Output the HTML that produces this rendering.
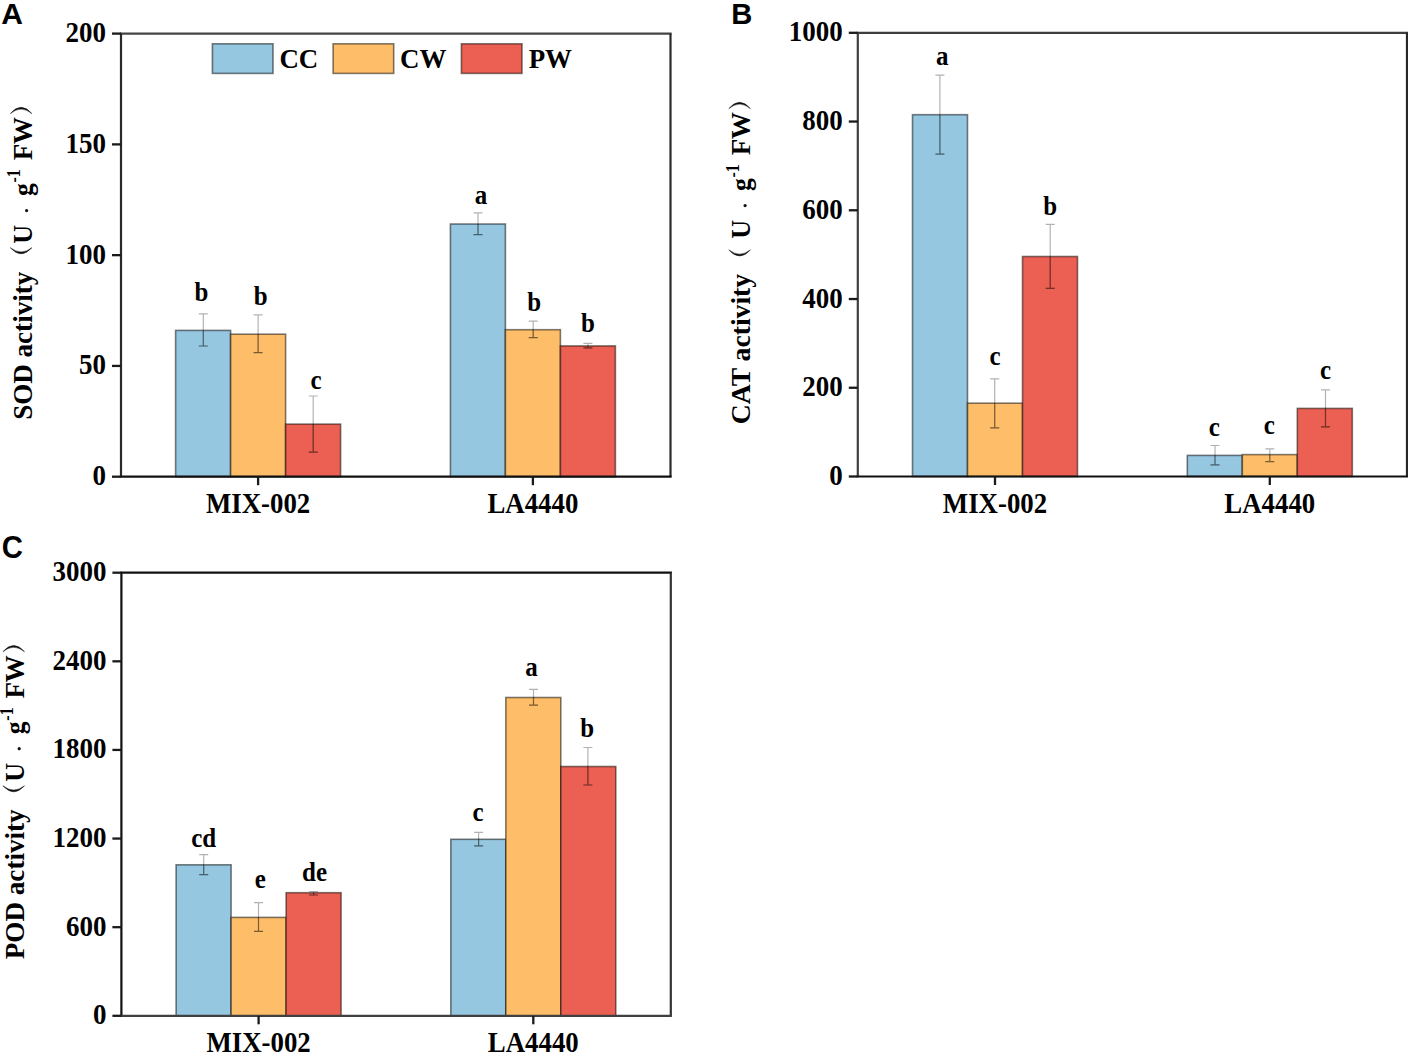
<!DOCTYPE html><html><head><meta charset="utf-8"><style>html,body{margin:0;padding:0;background:#fff;overflow:hidden}svg{display:block}</style></head><body>
<svg width="1408" height="1052" viewBox="0 0 1408 1052">
<rect width="1408" height="1052" fill="#fff"/>
<rect x="175.60" y="330.40" width="55" height="146.30" fill="#95C7E0" stroke="rgba(0,0,0,0.5)" stroke-width="1.6"/>
<rect x="230.60" y="334.20" width="55" height="142.50" fill="#FEBE69" stroke="rgba(0,0,0,0.5)" stroke-width="1.6"/>
<rect x="285.60" y="424.10" width="55" height="52.60" fill="#EB6052" stroke="rgba(0,0,0,0.5)" stroke-width="1.6"/>
<rect x="450.40" y="224.00" width="55" height="252.70" fill="#95C7E0" stroke="rgba(0,0,0,0.5)" stroke-width="1.6"/>
<rect x="505.40" y="329.70" width="55" height="147.00" fill="#FEBE69" stroke="rgba(0,0,0,0.5)" stroke-width="1.6"/>
<rect x="560.40" y="345.90" width="55" height="130.80" fill="#EB6052" stroke="rgba(0,0,0,0.5)" stroke-width="1.6"/>
<path d="M203.30 313.80V346.00M198.80 313.80H207.80M198.80 346.00H207.80" stroke="rgba(0,0,0,0.3)" stroke-width="1.2" fill="none"/>
<path d="M203.30 330.40V346.00M198.80 346.00H207.80" stroke="rgba(0,0,0,0.3)" stroke-width="1.2" fill="none"/>
<path d="M258.10 314.80V352.60M253.60 314.80H262.60M253.60 352.60H262.60" stroke="rgba(0,0,0,0.3)" stroke-width="1.2" fill="none"/>
<path d="M258.10 334.20V352.60M253.60 352.60H262.60" stroke="rgba(0,0,0,0.3)" stroke-width="1.2" fill="none"/>
<path d="M313.20 396.00V452.20M308.70 396.00H317.70M308.70 452.20H317.70" stroke="rgba(0,0,0,0.3)" stroke-width="1.2" fill="none"/>
<path d="M313.20 424.10V452.20M308.70 452.20H317.70" stroke="rgba(0,0,0,0.3)" stroke-width="1.2" fill="none"/>
<path d="M478.00 212.80V234.60M473.50 212.80H482.50M473.50 234.60H482.50" stroke="rgba(0,0,0,0.3)" stroke-width="1.2" fill="none"/>
<path d="M478.00 224.00V234.60M473.50 234.60H482.50" stroke="rgba(0,0,0,0.3)" stroke-width="1.2" fill="none"/>
<path d="M533.20 321.10V337.70M528.70 321.10H537.70M528.70 337.70H537.70" stroke="rgba(0,0,0,0.3)" stroke-width="1.2" fill="none"/>
<path d="M533.20 329.70V337.70M528.70 337.70H537.70" stroke="rgba(0,0,0,0.3)" stroke-width="1.2" fill="none"/>
<path d="M587.90 343.40V347.80M583.40 343.40H592.40M583.40 347.80H592.40" stroke="rgba(0,0,0,0.3)" stroke-width="1.2" fill="none"/>
<path d="M587.90 345.90V347.80M583.40 347.80H592.40" stroke="rgba(0,0,0,0.3)" stroke-width="1.2" fill="none"/>
<text x="201.50" y="300.90" font-family="Liberation Serif" font-weight="bold" font-size="27" text-anchor="middle" textLength="13.89" lengthAdjust="spacingAndGlyphs">b</text>
<text x="260.80" y="304.80" font-family="Liberation Serif" font-weight="bold" font-size="27" text-anchor="middle" textLength="13.89" lengthAdjust="spacingAndGlyphs">b</text>
<text x="316.00" y="389.20" font-family="Liberation Serif" font-weight="bold" font-size="27" text-anchor="middle" textLength="11.09" lengthAdjust="spacingAndGlyphs">c</text>
<text x="480.90" y="203.80" font-family="Liberation Serif" font-weight="bold" font-size="27" text-anchor="middle" textLength="12.49" lengthAdjust="spacingAndGlyphs">a</text>
<text x="534.10" y="311.20" font-family="Liberation Serif" font-weight="bold" font-size="27" text-anchor="middle" textLength="13.89" lengthAdjust="spacingAndGlyphs">b</text>
<text x="587.90" y="332.10" font-family="Liberation Serif" font-weight="bold" font-size="27" text-anchor="middle" textLength="13.89" lengthAdjust="spacingAndGlyphs">b</text>
<path d="M119.9 33.6H671.6" stroke="#444" stroke-width="2.2"/>
<path d="M121 33.6V476.7" stroke="#2a2a2a" stroke-width="2.2"/>
<path d="M670.5 33.6V476.7" stroke="#2a2a2a" stroke-width="2.2"/>
<path d="M119.9 476.7H671.6" stroke="#111" stroke-width="2.2"/>
<path d="M112.00 476.70H121" stroke="#1a1a1a" stroke-width="2.3"/>
<text x="106.00" y="485.20" font-family="Liberation Serif" font-weight="bold" font-size="29" text-anchor="end" textLength="13.49" lengthAdjust="spacingAndGlyphs">0</text>
<path d="M112.00 365.93H121" stroke="#1a1a1a" stroke-width="2.3"/>
<text x="106.00" y="374.43" font-family="Liberation Serif" font-weight="bold" font-size="29" text-anchor="end" textLength="26.97" lengthAdjust="spacingAndGlyphs">50</text>
<path d="M112.00 255.15H121" stroke="#1a1a1a" stroke-width="2.3"/>
<text x="106.00" y="263.65" font-family="Liberation Serif" font-weight="bold" font-size="29" text-anchor="end" textLength="40.46" lengthAdjust="spacingAndGlyphs">100</text>
<path d="M112.00 144.38H121" stroke="#1a1a1a" stroke-width="2.3"/>
<text x="106.00" y="152.88" font-family="Liberation Serif" font-weight="bold" font-size="29" text-anchor="end" textLength="40.46" lengthAdjust="spacingAndGlyphs">150</text>
<path d="M112.00 33.60H121" stroke="#1a1a1a" stroke-width="2.3"/>
<text x="106.00" y="42.10" font-family="Liberation Serif" font-weight="bold" font-size="29" text-anchor="end" textLength="40.46" lengthAdjust="spacingAndGlyphs">200</text>
<path d="M258.10 476.7V485.20" stroke="#1a1a1a" stroke-width="2.3"/>
<text x="258.10" y="513.00" font-family="Liberation Serif" font-weight="bold" font-size="29" text-anchor="middle" textLength="104.30" lengthAdjust="spacingAndGlyphs">MIX-002</text>
<path d="M532.90 476.7V485.20" stroke="#1a1a1a" stroke-width="2.3"/>
<text x="532.90" y="513.00" font-family="Liberation Serif" font-weight="bold" font-size="29" text-anchor="middle" textLength="90.91" lengthAdjust="spacingAndGlyphs">LA4440</text>
<g transform="translate(31.70,418.40) rotate(-90)">
<text x="-1.44" y="0" font-family="Liberation Serif" font-weight="bold" font-size="28" textLength="148.10" lengthAdjust="spacingAndGlyphs">SOD activity</text>
<path d="M170.70 -21.4Q158.60 -10.6 170.70 0.2Q162.20 -10.6 170.70 -21.4Z" fill="#111" stroke="#111" stroke-width="0.5"/>
<text x="174.75" y="0" font-family="Liberation Serif" font-weight="bold" font-size="28" textLength="18.90" lengthAdjust="spacingAndGlyphs">U</text>
<circle cx="207.80" cy="-5.1" r="1.6" fill="#111"/>
<text x="222.33" y="0" font-family="Liberation Serif" font-weight="bold" font-size="28" textLength="12.72" lengthAdjust="spacingAndGlyphs">g</text>
<text x="235.81" y="-11.7" font-family="Liberation Serif" font-weight="bold" font-size="19" textLength="13.31" lengthAdjust="spacingAndGlyphs">-1</text>
<text x="258.04" y="0" font-family="Liberation Serif" font-weight="bold" font-size="28" textLength="16.45" lengthAdjust="spacingAndGlyphs">F</text>
<text x="274.12" y="0" font-family="Liberation Serif" font-weight="bold" font-size="28" textLength="27.11" lengthAdjust="spacingAndGlyphs">W</text>
<path d="M304.80 -21.4Q317.40 -10.6 304.80 0.2Q313.80 -10.6 304.80 -21.4Z" fill="#111" stroke="#111" stroke-width="0.5"/>
</g>
<rect x="212.4" y="43.8" width="60.6" height="29.6" fill="#95C7E0" stroke="rgba(0,0,0,0.5)" stroke-width="1.6"/>
<text x="279.40" y="68.1" font-family="Liberation Serif" font-weight="bold" font-size="28" textLength="38.82" lengthAdjust="spacingAndGlyphs">CC</text>
<rect x="333.1" y="43.8" width="60.6" height="29.6" fill="#FEBE69" stroke="rgba(0,0,0,0.5)" stroke-width="1.6"/>
<text x="400.10" y="68.1" font-family="Liberation Serif" font-weight="bold" font-size="28" textLength="46.29" lengthAdjust="spacingAndGlyphs">CW</text>
<rect x="461.4" y="43.8" width="60.6" height="29.6" fill="#EB6052" stroke="rgba(0,0,0,0.5)" stroke-width="1.6"/>
<text x="528.70" y="68.1" font-family="Liberation Serif" font-weight="bold" font-size="28" textLength="43.30" lengthAdjust="spacingAndGlyphs">PW</text>
<rect x="912.50" y="114.70" width="55" height="361.80" fill="#95C7E0" stroke="rgba(0,0,0,0.5)" stroke-width="1.6"/>
<rect x="967.50" y="403.20" width="55" height="73.30" fill="#FEBE69" stroke="rgba(0,0,0,0.5)" stroke-width="1.6"/>
<rect x="1022.50" y="256.50" width="55" height="220.00" fill="#EB6052" stroke="rgba(0,0,0,0.5)" stroke-width="1.6"/>
<rect x="1187.30" y="455.40" width="55" height="21.10" fill="#95C7E0" stroke="rgba(0,0,0,0.5)" stroke-width="1.6"/>
<rect x="1242.30" y="454.60" width="55" height="21.90" fill="#FEBE69" stroke="rgba(0,0,0,0.5)" stroke-width="1.6"/>
<rect x="1297.30" y="408.40" width="55" height="68.10" fill="#EB6052" stroke="rgba(0,0,0,0.5)" stroke-width="1.6"/>
<path d="M939.90 75.20V154.10M935.40 75.20H944.40M935.40 154.10H944.40" stroke="rgba(0,0,0,0.3)" stroke-width="1.2" fill="none"/>
<path d="M939.90 114.70V154.10M935.40 154.10H944.40" stroke="rgba(0,0,0,0.3)" stroke-width="1.2" fill="none"/>
<path d="M994.70 378.90V427.90M990.20 378.90H999.20M990.20 427.90H999.20" stroke="rgba(0,0,0,0.3)" stroke-width="1.2" fill="none"/>
<path d="M994.70 403.20V427.90M990.20 427.90H999.20" stroke="rgba(0,0,0,0.3)" stroke-width="1.2" fill="none"/>
<path d="M1050.20 224.30V288.40M1045.70 224.30H1054.70M1045.70 288.40H1054.70" stroke="rgba(0,0,0,0.3)" stroke-width="1.2" fill="none"/>
<path d="M1050.20 256.50V288.40M1045.70 288.40H1054.70" stroke="rgba(0,0,0,0.3)" stroke-width="1.2" fill="none"/>
<path d="M1215.00 445.50V464.90M1210.50 445.50H1219.50M1210.50 464.90H1219.50" stroke="rgba(0,0,0,0.3)" stroke-width="1.2" fill="none"/>
<path d="M1215.00 455.40V464.90M1210.50 464.90H1219.50" stroke="rgba(0,0,0,0.3)" stroke-width="1.2" fill="none"/>
<path d="M1269.80 448.90V461.70M1265.30 448.90H1274.30M1265.30 461.70H1274.30" stroke="rgba(0,0,0,0.3)" stroke-width="1.2" fill="none"/>
<path d="M1269.80 454.60V461.70M1265.30 461.70H1274.30" stroke="rgba(0,0,0,0.3)" stroke-width="1.2" fill="none"/>
<path d="M1325.50 389.80V426.90M1321.00 389.80H1330.00M1321.00 426.90H1330.00" stroke="rgba(0,0,0,0.3)" stroke-width="1.2" fill="none"/>
<path d="M1325.50 408.40V426.90M1321.00 426.90H1330.00" stroke="rgba(0,0,0,0.3)" stroke-width="1.2" fill="none"/>
<text x="942.20" y="64.80" font-family="Liberation Serif" font-weight="bold" font-size="27" text-anchor="middle" textLength="12.49" lengthAdjust="spacingAndGlyphs">a</text>
<text x="995.00" y="364.90" font-family="Liberation Serif" font-weight="bold" font-size="27" text-anchor="middle" textLength="11.09" lengthAdjust="spacingAndGlyphs">c</text>
<text x="1050.20" y="215.40" font-family="Liberation Serif" font-weight="bold" font-size="27" text-anchor="middle" textLength="13.89" lengthAdjust="spacingAndGlyphs">b</text>
<text x="1214.30" y="435.50" font-family="Liberation Serif" font-weight="bold" font-size="27" text-anchor="middle" textLength="11.09" lengthAdjust="spacingAndGlyphs">c</text>
<text x="1269.20" y="433.70" font-family="Liberation Serif" font-weight="bold" font-size="27" text-anchor="middle" textLength="11.09" lengthAdjust="spacingAndGlyphs">c</text>
<text x="1325.50" y="378.50" font-family="Liberation Serif" font-weight="bold" font-size="27" text-anchor="middle" textLength="11.09" lengthAdjust="spacingAndGlyphs">c</text>
<path d="M856.6999999999999 32.8H1408.1" stroke="#3d3d3d" stroke-width="2.2"/>
<path d="M857.8 32.8V476.5" stroke="#404040" stroke-width="2.2"/>
<path d="M1407 32.8V476.5" stroke="#272727" stroke-width="2.2"/>
<path d="M856.6999999999999 476.5H1408.1" stroke="#111" stroke-width="2.2"/>
<path d="M848.80 476.50H857.8" stroke="#1a1a1a" stroke-width="2.3"/>
<text x="842.80" y="485.00" font-family="Liberation Serif" font-weight="bold" font-size="29" text-anchor="end" textLength="13.49" lengthAdjust="spacingAndGlyphs">0</text>
<path d="M848.80 387.76H857.8" stroke="#1a1a1a" stroke-width="2.3"/>
<text x="842.80" y="396.26" font-family="Liberation Serif" font-weight="bold" font-size="29" text-anchor="end" textLength="40.46" lengthAdjust="spacingAndGlyphs">200</text>
<path d="M848.80 299.02H857.8" stroke="#1a1a1a" stroke-width="2.3"/>
<text x="842.80" y="307.52" font-family="Liberation Serif" font-weight="bold" font-size="29" text-anchor="end" textLength="40.46" lengthAdjust="spacingAndGlyphs">400</text>
<path d="M848.80 210.28H857.8" stroke="#1a1a1a" stroke-width="2.3"/>
<text x="842.80" y="218.78" font-family="Liberation Serif" font-weight="bold" font-size="29" text-anchor="end" textLength="40.46" lengthAdjust="spacingAndGlyphs">600</text>
<path d="M848.80 121.54H857.8" stroke="#1a1a1a" stroke-width="2.3"/>
<text x="842.80" y="130.04" font-family="Liberation Serif" font-weight="bold" font-size="29" text-anchor="end" textLength="40.46" lengthAdjust="spacingAndGlyphs">800</text>
<path d="M848.80 32.80H857.8" stroke="#1a1a1a" stroke-width="2.3"/>
<text x="842.80" y="41.30" font-family="Liberation Serif" font-weight="bold" font-size="29" text-anchor="end" textLength="53.94" lengthAdjust="spacingAndGlyphs">1000</text>
<path d="M995.00 476.5V485.00" stroke="#1a1a1a" stroke-width="2.3"/>
<text x="995.00" y="513.00" font-family="Liberation Serif" font-weight="bold" font-size="29" text-anchor="middle" textLength="104.30" lengthAdjust="spacingAndGlyphs">MIX-002</text>
<path d="M1269.80 476.5V485.00" stroke="#1a1a1a" stroke-width="2.3"/>
<text x="1269.80" y="513.00" font-family="Liberation Serif" font-weight="bold" font-size="29" text-anchor="middle" textLength="90.91" lengthAdjust="spacingAndGlyphs">LA4440</text>
<g transform="translate(750.20,422.90) rotate(-90)">
<text x="-1.33" y="0" font-family="Liberation Serif" font-weight="bold" font-size="28" textLength="150.39" lengthAdjust="spacingAndGlyphs">CAT activity</text>
<path d="M173.00 -21.4Q160.90 -10.6 173.00 0.2Q164.50 -10.6 173.00 -21.4Z" fill="#111" stroke="#111" stroke-width="0.5"/>
<text x="184.25" y="0" font-family="Liberation Serif" font-weight="bold" font-size="28" textLength="18.90" lengthAdjust="spacingAndGlyphs">U</text>
<circle cx="217.30" cy="-5.1" r="1.6" fill="#111"/>
<text x="231.83" y="0" font-family="Liberation Serif" font-weight="bold" font-size="28" textLength="12.72" lengthAdjust="spacingAndGlyphs">g</text>
<text x="245.31" y="-11.7" font-family="Liberation Serif" font-weight="bold" font-size="19" textLength="13.31" lengthAdjust="spacingAndGlyphs">-1</text>
<text x="267.54" y="0" font-family="Liberation Serif" font-weight="bold" font-size="28" textLength="16.45" lengthAdjust="spacingAndGlyphs">F</text>
<text x="283.62" y="0" font-family="Liberation Serif" font-weight="bold" font-size="28" textLength="27.11" lengthAdjust="spacingAndGlyphs">W</text>
<path d="M314.30 -21.4Q326.90 -10.6 314.30 0.2Q323.30 -10.6 314.30 -21.4Z" fill="#111" stroke="#111" stroke-width="0.5"/>
</g>
<rect x="176.10" y="864.80" width="55" height="151.00" fill="#95C7E0" stroke="rgba(0,0,0,0.5)" stroke-width="1.6"/>
<rect x="231.10" y="917.40" width="55" height="98.40" fill="#FEBE69" stroke="rgba(0,0,0,0.5)" stroke-width="1.6"/>
<rect x="286.10" y="892.70" width="55" height="123.10" fill="#EB6052" stroke="rgba(0,0,0,0.5)" stroke-width="1.6"/>
<rect x="450.80" y="839.30" width="55" height="176.50" fill="#95C7E0" stroke="rgba(0,0,0,0.5)" stroke-width="1.6"/>
<rect x="505.80" y="697.50" width="55" height="318.30" fill="#FEBE69" stroke="rgba(0,0,0,0.5)" stroke-width="1.6"/>
<rect x="560.80" y="766.50" width="55" height="249.30" fill="#EB6052" stroke="rgba(0,0,0,0.5)" stroke-width="1.6"/>
<path d="M203.70 854.70V874.60M199.20 854.70H208.20M199.20 874.60H208.20" stroke="rgba(0,0,0,0.3)" stroke-width="1.2" fill="none"/>
<path d="M203.70 864.80V874.60M199.20 874.60H208.20" stroke="rgba(0,0,0,0.3)" stroke-width="1.2" fill="none"/>
<path d="M258.50 902.60V931.30M254.00 902.60H263.00M254.00 931.30H263.00" stroke="rgba(0,0,0,0.3)" stroke-width="1.2" fill="none"/>
<path d="M258.50 917.40V931.30M254.00 931.30H263.00" stroke="rgba(0,0,0,0.3)" stroke-width="1.2" fill="none"/>
<path d="M313.60 891.70V895.00M309.10 891.70H318.10M309.10 895.00H318.10" stroke="rgba(0,0,0,0.3)" stroke-width="1.2" fill="none"/>
<path d="M313.60 892.70V895.00M309.10 895.00H318.10" stroke="rgba(0,0,0,0.3)" stroke-width="1.2" fill="none"/>
<path d="M478.60 832.30V845.80M474.10 832.30H483.10M474.10 845.80H483.10" stroke="rgba(0,0,0,0.3)" stroke-width="1.2" fill="none"/>
<path d="M478.60 839.30V845.80M474.10 845.80H483.10" stroke="rgba(0,0,0,0.3)" stroke-width="1.2" fill="none"/>
<path d="M533.50 689.40V705.10M529.00 689.40H538.00M529.00 705.10H538.00" stroke="rgba(0,0,0,0.3)" stroke-width="1.2" fill="none"/>
<path d="M533.50 697.50V705.10M529.00 705.10H538.00" stroke="rgba(0,0,0,0.3)" stroke-width="1.2" fill="none"/>
<path d="M587.90 747.50V785.00M583.40 747.50H592.40M583.40 785.00H592.40" stroke="rgba(0,0,0,0.3)" stroke-width="1.2" fill="none"/>
<path d="M587.90 766.50V785.00M583.40 785.00H592.40" stroke="rgba(0,0,0,0.3)" stroke-width="1.2" fill="none"/>
<text x="203.70" y="846.60" font-family="Liberation Serif" font-weight="bold" font-size="27" text-anchor="middle" textLength="24.98" lengthAdjust="spacingAndGlyphs">cd</text>
<text x="260.40" y="888.10" font-family="Liberation Serif" font-weight="bold" font-size="27" text-anchor="middle" textLength="11.09" lengthAdjust="spacingAndGlyphs">e</text>
<text x="314.60" y="880.80" font-family="Liberation Serif" font-weight="bold" font-size="27" text-anchor="middle" textLength="24.98" lengthAdjust="spacingAndGlyphs">de</text>
<text x="478.00" y="820.70" font-family="Liberation Serif" font-weight="bold" font-size="27" text-anchor="middle" textLength="11.09" lengthAdjust="spacingAndGlyphs">c</text>
<text x="531.60" y="675.60" font-family="Liberation Serif" font-weight="bold" font-size="27" text-anchor="middle" textLength="12.49" lengthAdjust="spacingAndGlyphs">a</text>
<text x="587.30" y="737.00" font-family="Liberation Serif" font-weight="bold" font-size="27" text-anchor="middle" textLength="13.89" lengthAdjust="spacingAndGlyphs">b</text>
<path d="M120.30000000000001 572.7H671.9" stroke="#111" stroke-width="2.2"/>
<path d="M121.4 572.7V1015.8" stroke="#111" stroke-width="2.2"/>
<path d="M670.8 572.7V1015.8" stroke="#333" stroke-width="2.2"/>
<path d="M120.30000000000001 1015.8H671.9" stroke="#404040" stroke-width="2.2"/>
<path d="M112.40 1015.80H121.4" stroke="#1a1a1a" stroke-width="2.3"/>
<text x="106.40" y="1024.30" font-family="Liberation Serif" font-weight="bold" font-size="29" text-anchor="end" textLength="13.49" lengthAdjust="spacingAndGlyphs">0</text>
<path d="M112.40 927.18H121.4" stroke="#1a1a1a" stroke-width="2.3"/>
<text x="106.40" y="935.68" font-family="Liberation Serif" font-weight="bold" font-size="29" text-anchor="end" textLength="40.46" lengthAdjust="spacingAndGlyphs">600</text>
<path d="M112.40 838.56H121.4" stroke="#1a1a1a" stroke-width="2.3"/>
<text x="106.40" y="847.06" font-family="Liberation Serif" font-weight="bold" font-size="29" text-anchor="end" textLength="53.94" lengthAdjust="spacingAndGlyphs">1200</text>
<path d="M112.40 749.94H121.4" stroke="#1a1a1a" stroke-width="2.3"/>
<text x="106.40" y="758.44" font-family="Liberation Serif" font-weight="bold" font-size="29" text-anchor="end" textLength="53.94" lengthAdjust="spacingAndGlyphs">1800</text>
<path d="M112.40 661.32H121.4" stroke="#1a1a1a" stroke-width="2.3"/>
<text x="106.40" y="669.82" font-family="Liberation Serif" font-weight="bold" font-size="29" text-anchor="end" textLength="53.94" lengthAdjust="spacingAndGlyphs">2400</text>
<path d="M112.40 572.70H121.4" stroke="#1a1a1a" stroke-width="2.3"/>
<text x="106.40" y="581.20" font-family="Liberation Serif" font-weight="bold" font-size="29" text-anchor="end" textLength="53.94" lengthAdjust="spacingAndGlyphs">3000</text>
<path d="M258.60 1015.8V1024.30" stroke="#1a1a1a" stroke-width="2.3"/>
<text x="258.60" y="1052.00" font-family="Liberation Serif" font-weight="bold" font-size="29" text-anchor="middle" textLength="104.30" lengthAdjust="spacingAndGlyphs">MIX-002</text>
<path d="M533.30 1015.8V1024.30" stroke="#1a1a1a" stroke-width="2.3"/>
<text x="533.30" y="1052.00" font-family="Liberation Serif" font-weight="bold" font-size="29" text-anchor="middle" textLength="90.91" lengthAdjust="spacingAndGlyphs">LA4440</text>
<g transform="translate(24.30,958.80) rotate(-90)">
<text x="-0.46" y="0" font-family="Liberation Serif" font-weight="bold" font-size="28" textLength="149.93" lengthAdjust="spacingAndGlyphs">POD activity</text>
<path d="M173.00 -21.4Q160.90 -10.6 173.00 0.2Q164.50 -10.6 173.00 -21.4Z" fill="#111" stroke="#111" stroke-width="0.5"/>
<text x="177.05" y="0" font-family="Liberation Serif" font-weight="bold" font-size="28" textLength="18.90" lengthAdjust="spacingAndGlyphs">U</text>
<circle cx="210.10" cy="-5.1" r="1.6" fill="#111"/>
<text x="224.63" y="0" font-family="Liberation Serif" font-weight="bold" font-size="28" textLength="12.72" lengthAdjust="spacingAndGlyphs">g</text>
<text x="238.11" y="-11.7" font-family="Liberation Serif" font-weight="bold" font-size="19" textLength="13.31" lengthAdjust="spacingAndGlyphs">-1</text>
<text x="260.34" y="0" font-family="Liberation Serif" font-weight="bold" font-size="28" textLength="16.45" lengthAdjust="spacingAndGlyphs">F</text>
<text x="276.42" y="0" font-family="Liberation Serif" font-weight="bold" font-size="28" textLength="27.11" lengthAdjust="spacingAndGlyphs">W</text>
<path d="M307.10 -21.4Q319.70 -10.6 307.10 0.2Q316.10 -10.6 307.10 -21.4Z" fill="#111" stroke="#111" stroke-width="0.5"/>
</g>
<text x="1.25" y="24" font-family="Liberation Sans" font-weight="bold" font-size="30">A</text>
<text x="731.15" y="24" font-family="Liberation Sans" font-weight="bold" font-size="30" textLength="21.08" lengthAdjust="spacingAndGlyphs">B</text>
<text x="1.8" y="558.2" font-family="Liberation Sans" font-weight="bold" font-size="32" textLength="21.12" lengthAdjust="spacingAndGlyphs">C</text>
</svg></body></html>
